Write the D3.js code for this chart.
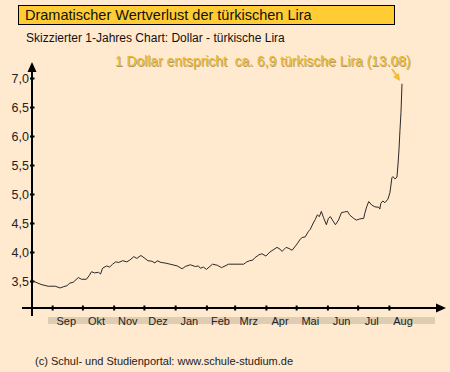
<!DOCTYPE html>
<html>
<head>
<meta charset="utf-8">
<script src="https://cdn.jsdelivr.net/npm/d3@7/dist/d3.min.js"></script>
<style>
  html, body { margin: 0; padding: 0; background: #ffe9cf; }
  svg { display: block; font-family: "Liberation Sans", Arial, sans-serif; }
  .pre { white-space: pre; }
</style>
</head>
<body>
<svg id="chart" width="450" height="372"></svg>
<script>
// ---- data ----
const dates = [
  "2017-08-13","2017-08-21","2017-08-28","2017-09-04","2017-09-09","2017-09-12","2017-09-16","2017-09-18",
  "2017-09-22","2017-09-27","2017-09-30","2017-10-05","2017-10-08","2017-10-10","2017-10-13","2017-10-17",
  "2017-10-19","2017-10-21","2017-10-25","2017-10-28","2017-10-31","2017-11-03","2017-11-06","2017-11-10",
  "2017-11-14","2017-11-17","2017-11-21","2017-11-24","2017-11-28","2017-12-02","2017-12-05","2017-12-09",
  "2017-12-12","2017-12-14","2017-12-18","2017-12-22","2017-12-27","2018-01-03","2018-01-08","2018-01-11",
  "2018-01-16","2018-01-21","2018-01-24","2018-01-26","2018-01-29","2018-02-01","2018-02-07","2018-02-12",
  "2018-02-16","2018-02-23","2018-03-10","2018-03-13","2018-03-16","2018-03-19","2018-03-21","2018-03-25",
  "2018-03-28","2018-04-01","2018-04-05","2018-04-12","2018-04-15","2018-04-17","2018-04-21","2018-04-24",
  "2018-04-27","2018-05-02","2018-05-05","2018-05-07","2018-05-10","2018-05-13","2018-05-15","2018-05-18",
  "2018-05-20","2018-05-22","2018-05-24","2018-05-26","2018-05-28","2018-05-31","2018-06-02","2018-06-04",
  "2018-06-06","2018-06-09","2018-06-12","2018-06-15","2018-06-18","2018-06-21","2018-06-23","2018-06-27",
  "2018-06-30","2018-07-03","2018-07-07","2018-07-08","2018-07-10","2018-07-12","2018-07-15","2018-07-18",
  "2018-07-22","2018-07-23","2018-07-24","2018-07-26","2018-07-28","2018-07-31","2018-08-02","2018-08-04",
  "2018-08-05","2018-08-07","2018-08-09","2018-08-10","2018-08-11","2018-08-12","2018-08-13","2018-08-14"
];
const usdTry = [
  3.50,3.44,3.41,3.41,3.38,3.40,3.42,3.46,
  3.48,3.56,3.53,3.53,3.60,3.66,3.64,3.65,
  3.62,3.72,3.76,3.74,3.79,3.83,3.82,3.85,
  3.83,3.86,3.92,3.89,3.94,3.89,3.85,3.84,
  3.81,3.85,3.82,3.81,3.79,3.76,3.71,3.75,
  3.78,3.75,3.76,3.72,3.74,3.70,3.79,3.77,
  3.73,3.79,3.79,3.83,3.85,3.86,3.90,3.95,
  3.97,3.93,4.00,4.08,4.05,4.01,4.08,4.06,
  4.03,4.14,4.22,4.25,4.26,4.35,4.39,4.50,
  4.56,4.64,4.61,4.70,4.60,4.47,4.58,4.61,
  4.55,4.47,4.55,4.68,4.69,4.70,4.64,4.58,
  4.55,4.57,4.58,4.66,4.78,4.87,4.81,4.78,
  4.77,4.74,4.84,4.88,4.85,4.91,5.02,5.28,
  5.30,5.26,5.29,5.50,5.76,6.10,6.41,6.90
];
const yTicks = [3.5, 4.0, 4.5, 5.0, 5.5, 6.0, 6.5, 7.0];
const monthLabels = ["Sep","Okt","Nov","Dez","Jan","Feb","Mrz","Apr","Mai","Jun","Jul","Aug"];
const titleText = "Dramatischer Wertverlust der türkischen Lira";
const subtitleText = "Skizzierter 1-Jahres Chart: Dollar - türkische Lira";
const noteText = "1 Dollar entspricht  ca. 6,9 türkische Lira (13.08)";
const footerText = "(c) Schul- und Studienportal: www.schule-studium.de";

// ---- setup ----
const parse = d3.timeParse("%Y-%m-%d");
const data = dates.map((d, i) => ({ date: parse(d), value: usdTry[i] }));

const svg = d3.select("#chart");
svg.append("rect").attr("width", 450).attr("height", 372).attr("fill", "#ffe9cf");

const x = d3.scaleTime()
  .domain([parse("2017-08-13"), parse("2018-08-14")])
  .range([33, 402]);
const y = d3.scaleLinear().domain([3.5, 7.0]).range([281, 78]);
const axisY = 308, axisX = 32;

const deFmt = d3.formatLocale({ decimal: ",", thousands: ".", grouping: [3], currency: ["", " €"] }).format(".1f");

// title box
svg.append("rect").attr("x", 18.5).attr("y", 5.5).attr("width", 376).attr("height", 19)
  .attr("fill", "#ffcc33").attr("stroke", "#000").attr("stroke-width", 1);
svg.append("text").attr("x", 25).attr("y", 20).attr("font-size", 14.5).attr("fill", "#111").text(titleText);
svg.append("text").attr("x", 26).attr("y", 41.5).attr("font-size", 12).attr("fill", "#111").text(subtitleText);

// month label band
svg.append("rect").attr("x", 48).attr("y", 317).attr("width", 387).attr("height", 7).attr("fill", "#dfcdb3");

// axes lines with arrows
svg.append("line").attr("x1", axisX).attr("x2", axisX).attr("y1", 316).attr("y2", 70)
  .attr("stroke", "#000").attr("stroke-width", 2);
svg.append("path").attr("d", `M${axisX},62 L${axisX - 4.5},72 L${axisX + 4.5},72 Z`).attr("fill", "#000");
svg.append("line").attr("x1", 22).attr("x2", 438).attr("y1", axisY).attr("y2", axisY)
  .attr("stroke", "#000").attr("stroke-width", 2);
svg.append("path").attr("d", `M446,${axisY} L436,${axisY - 4.5} L436,${axisY + 4.5} Z`).attr("fill", "#000");

// y axis ticks/labels
const yAxis = d3.axisLeft(y).tickValues(yTicks).tickFormat(deFmt).tickSizeInner(0).tickPadding(0);
const gy = svg.append("g").attr("transform", `translate(${axisX},0)`).call(yAxis);
gy.select(".domain").remove();
gy.selectAll(".tick line").attr("x1", -2).attr("x2", 2.5).attr("stroke", "#000").attr("stroke-width", 2);
gy.selectAll(".tick text").attr("x", -3).attr("font-size", 12.5).attr("fill", "#222")
  .attr("font-family", "Liberation Sans, Arial, sans-serif");

// x axis ticks
const monthStarts = d3.timeMonth.range(parse("2017-09-01"), parse("2018-08-02"));
const xAxis = d3.axisBottom(x).tickValues(monthStarts).tickSizeInner(0).tickFormat("");
const gx = svg.append("g").attr("transform", `translate(0,${axisY})`).call(xAxis);
gx.select(".domain").remove();
gx.selectAll(".tick line").attr("y1", -2.5).attr("y2", 2.5).attr("stroke", "#000").attr("stroke-width", 2);

// month labels at mid-month
svg.append("g").selectAll("text").data(monthStarts).join("text")
  .attr("x", d => x(d3.timeDay.offset(d, 14)))
  .attr("y", 325)
  .attr("text-anchor", "middle")
  .attr("font-size", 11)
  .attr("fill", "#222")
  .text((d, i) => monthLabels[i]);

// line
const line = d3.line().x(d => x(d.date)).y(d => y(d.value));
svg.append("path").datum(data).attr("d", line)
  .attr("fill", "none").attr("stroke", "#2a2a2a").attr("stroke-width", 1).attr("stroke-linejoin", "round");

// annotation
svg.append("text").attr("class", "pre").attr("x", 115.8).attr("y", 66.8).attr("font-size", 13.9)
  .attr("fill", "#7a5a08").attr("opacity", 0.55).text(noteText);
svg.append("text").attr("class", "pre").attr("x", 115).attr("y", 66).attr("font-size", 13.9)
  .attr("fill", "#eab82a").text(noteText);
svg.append("line").attr("x1", 392).attr("y1", 69).attr("x2", 397).attr("y2", 76)
  .attr("stroke", "#f2bd2e").attr("stroke-width", 2);
svg.append("path").attr("d", "M400,81 L393,77 L399,73 Z").attr("fill", "#f2bd2e");

// footer
svg.append("text").attr("x", 35).attr("y", 364.5).attr("font-size", 11).attr("fill", "#222").text(footerText);
</script>
</body>
</html>
